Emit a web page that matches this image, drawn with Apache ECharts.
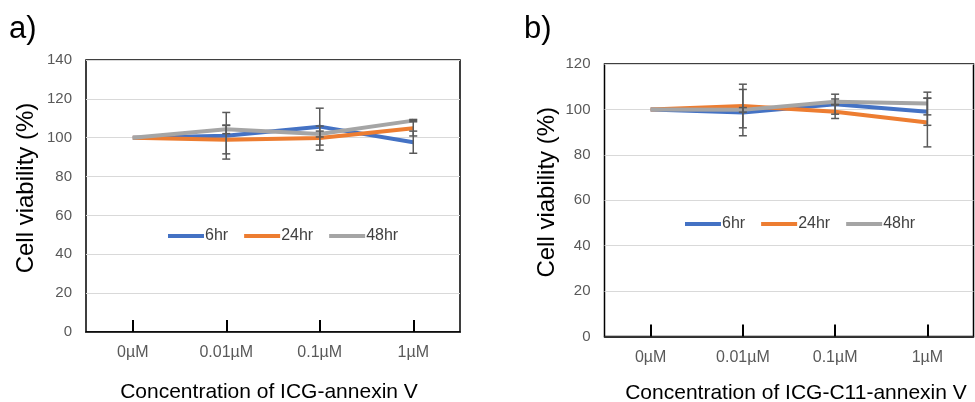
<!DOCTYPE html>
<html>
<head>
<meta charset="utf-8">
<script src="https://cdn.jsdelivr.net/npm/echarts@6/dist/echarts.min.js"></script>
<style>
html,body{margin:0;padding:0;background:#fff;}
#main{width:975px;height:402px;}
</style>
</head>
<body>
<div id="main"></div>
<script>
// ---- data ----
var categories = ['0µM', '0.01µM', '0.1µM', '1µM'];
var seriesNames = ['6hr', '24hr', '48hr'];

// panel a) ICG-annexin V
var a6hr  = [100, 101.0, 105.7, 97.7];
var a24hr = [100, 99.0, 99.8, 104.9];
var a48hr = [100, 104.3, 101.9, 108.8];
var a6hrErr  = [0, 12.0, 9.5, 5.7];
var a24hrErr = [0, 7.3, 6.2, 4.0];
var a48hrErr = [0, 2.2, 1.5, 0.6];

// panel b) ICG-C11-annexin V
var b6hr  = [100, 98.6, 102.3, 99.0];
var b24hr = [100, 101.5, 99.0, 94.2];
var b48hr = [100, 99.8, 103.4, 102.6];
var b6hrErr  = [0, 10.2, 4.4, 6.0];
var b24hrErr = [0, 9.6, 3.0, 10.7];
var b48hrErr = [0, 1.0, 1.2, 5.0];

var aYTicks = [0, 20, 40, 60, 80, 100, 120, 140];
var bYTicks = [0, 20, 40, 60, 80, 100, 120];

var colors = ['#4472C4', '#ED7D31', '#A5A5A5'];
var FONT = 'Liberation Sans, Arial, Helvetica, sans-serif';

function lineSeries(name, data, idx, color) {
  return {
    name: name, type: 'line', data: data,
    xAxisIndex: idx, yAxisIndex: idx,
    showSymbol: false, symbol: 'none',
    lineStyle: { width: 4, color: color },
    itemStyle: { color: color },
    z: 2
  };
}
function errSeries(vals, errs, idx) {
  var d = [];
  for (var i = 0; i < vals.length; i++) {
    if (errs[i] > 0) d.push([i, vals[i] - errs[i], vals[i] + errs[i]]);
  }
  return {
    type: 'custom', xAxisIndex: idx, yAxisIndex: idx, silent: true, z: 3,
    data: d,
    encode: { x: 0, y: [1, 2] },
    renderItem: function (params, api) {
      var x = api.value(0);
      var lo = api.coord([x, api.value(1)]);
      var hi = api.coord([x, api.value(2)]);
      var w = 4;
      var st = { stroke: '#595959', lineWidth: 1.5 };
      return {
        type: 'group',
        children: [
          { type: 'line', shape: { x1: lo[0], y1: lo[1], x2: hi[0], y2: hi[1] }, style: st },
          { type: 'line', shape: { x1: lo[0] - w, y1: lo[1], x2: lo[0] + w, y2: lo[1] }, style: st },
          { type: 'line', shape: { x1: hi[0] - w, y1: hi[1], x2: hi[0] + w, y2: hi[1] }, style: st }
        ]
      };
    }
  };
}
function xAxisDef(idx, title, pad, gap) {
  return {
    type: 'category', gridIndex: idx, data: categories, boundaryGap: true,
    axisLine: { show: true, lineStyle: { color: '#000', width: 1.5 } },
    axisTick: { show: true, inside: true, length: 12, alignWithLabel: true, interval: 0, lineStyle: { color: '#000', width: 2 } },
    axisLabel: { color: '#595959', fontSize: 16, margin: 13, fontFamily: FONT, interval: 0 },
    splitLine: { show: false },
    name: title, nameLocation: 'middle', nameGap: gap,
    nameTextStyle: { color: '#000', fontSize: 21, fontFamily: FONT, padding: pad }
  };
}
function yAxisDef(idx, ticks, gap) {
  return {
    type: 'value', gridIndex: idx, min: ticks[0], max: ticks[ticks.length - 1], interval: ticks[1] - ticks[0],
    axisLine: { show: false }, axisTick: { show: false },
    axisLabel: { color: '#595959', fontSize: 15, margin: 14, fontFamily: FONT },
    splitLine: { show: true, lineStyle: { color: '#D9D9D9', width: 1 } },
    name: 'Cell viability (%)', nameLocation: 'middle', nameGap: gap,
    nameTextStyle: { color: '#000', fontSize: 24, fontFamily: FONT, padding: [0, 0, 0, 16] }
  };
}
function legendDef(idx, left, top) {
  return {
    data: seriesNames, left: left, top: top, orient: 'horizontal',
    icon: 'rect', itemWidth: 36, itemHeight: 4, itemGap: 16,
    selectedMode: false,
    textStyle: { color: '#404040', fontSize: 16, fontFamily: FONT, padding: [0, 0, 0, -4] }
  };
}

var chart = echarts.init(document.getElementById('main'), null, { renderer: 'canvas' });
chart.setOption({
  animation: false,
  backgroundColor: '#fff',
  textStyle: { fontFamily: FONT },
  title: [
    { text: 'a)', left: 4, top: 9, textStyle: { fontSize: 31, fontWeight: 'normal', color: '#000', fontFamily: FONT } },
    { text: 'b)', left: 519, top: 9, textStyle: { fontSize: 31, fontWeight: 'normal', color: '#000', fontFamily: FONT } }
  ],
  grid: [
    { left: 86, top: 60, width: 374, height: 272, show: true, borderColor: '#000', borderWidth: 1.5, backgroundColor: 'transparent', containLabel: false, outerBoundsMode: 'none' },
    { left: 604.5, top: 64, width: 369, height: 272.5, show: true, borderColor: '#000', borderWidth: 1.5, backgroundColor: 'transparent', containLabel: false, outerBoundsMode: 'none' }
  ],
  legend: [ legendDef(0, 163, 223), legendDef(1, 680, 211) ],
  xAxis: [ xAxisDef(0, 'Concentration of ICG-annexin V', [0, 8, 0, 0], 50), xAxisDef(1, 'Concentration of ICG-C11-annexin V', [0, 0, 0, 14], 46) ],
  yAxis: [ yAxisDef(0, aYTicks, 48), yAxisDef(1, bYTicks, 45) ],
  series: [
    lineSeries(seriesNames[0], a6hr, 0, colors[0]),
    lineSeries(seriesNames[1], a24hr, 0, colors[1]),
    lineSeries(seriesNames[2], a48hr, 0, colors[2]),
    errSeries(a6hr, a6hrErr, 0),
    errSeries(a24hr, a24hrErr, 0),
    errSeries(a48hr, a48hrErr, 0),
    lineSeries(seriesNames[0], b6hr, 1, colors[0]),
    lineSeries(seriesNames[1], b24hr, 1, colors[1]),
    lineSeries(seriesNames[2], b48hr, 1, colors[2]),
    errSeries(b6hr, b6hrErr, 1),
    errSeries(b24hr, b24hrErr, 1),
    errSeries(b48hr, b48hrErr, 1)
  ]
});
</script>
</body>
</html>
